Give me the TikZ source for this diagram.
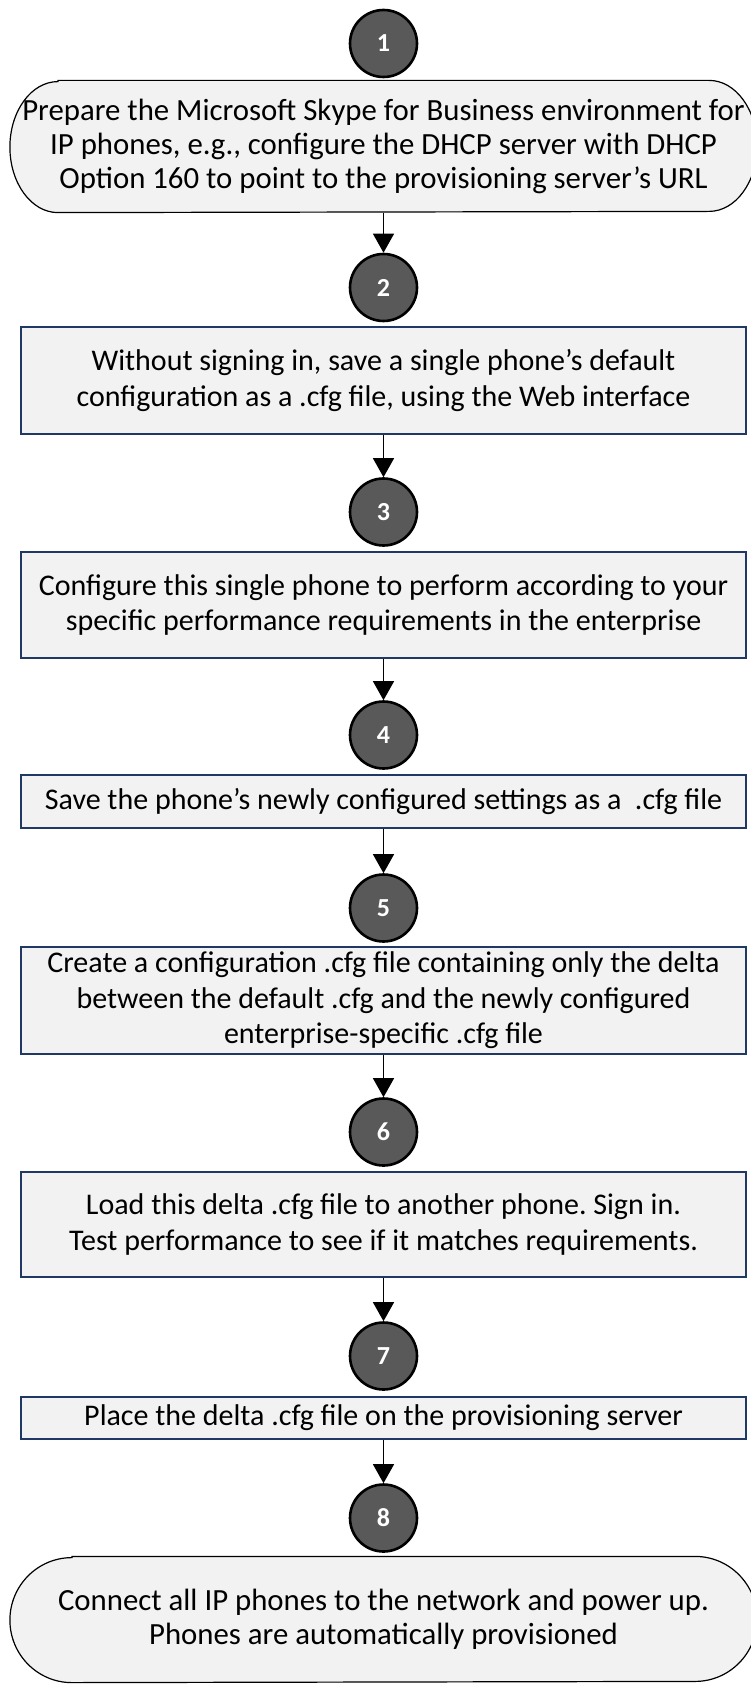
\documentclass[tikz,border=0pt]{standalone}
\usepackage{fontspec}
\setmainfont{Carlito}
\usepackage{xcolor}
\usepackage{tikz}
\usetikzlibrary{arrows.meta,backgrounds}
\frenchspacing

\definecolor{numgray}{HTML}{595959}
\definecolor{boxgray}{HTML}{F2F2F2}
\definecolor{boxline}{HTML}{203864}

\begin{document}
\begin{tikzpicture}[x=0.5pt,y=-0.5pt,line width=0.6pt,
numcell/.style={circle,draw=black,line width=1.3pt,fill=numgray,text=white,minimum size=33.5pt,inner sep=0pt,font=\fontsize{13}{15}\selectfont\bfseries},
boxcell/.style={draw=boxline,line width=0.8pt,fill=boxgray,minimum width=362.5pt,align=center,inner sep=2pt,font=\fontsize{15}{17.75}\selectfont},
endcell/.style={minimum width=373pt,align=center,inner sep=0pt,font=\fontsize{15.4}{16.9}\selectfont},
endline/.style={draw=black,line width=0.6pt,fill=boxgray},
>={Triangle[length=9.5pt,width=10.5pt]}
]
\useasboundingbox (0,0) rectangle (750,1684);

\node[numcell](ca) at (383.5,43.5) {1};
\node[endcell,minimum height=65.5pt](ta) at (383.5,146.5) {Prepare the Microsoft Skype for Business environment for\\IP phones, e.g., configure the DHCP server with DHCP\\Option 160 to point to the provisioning server’s URL};

\node[numcell](cb) at (383.5,287.5) {2};
\node[boxcell,minimum height=53.5pt](bb) at (383.5,380.5) {Without signing in, save a single phone’s default\\configuration as a .cfg file, using the Web interface};

\node[numcell](cc) at (383.5,512) {3};
\node[boxcell,minimum height=53pt](bc) at (383.5,605) {Configure this single phone to perform according to your\\specific performance requirements in the enterprise};

\node[numcell](cd) at (383.5,735) {4};
\node[boxcell,minimum height=26.5pt](bd) at (383.5,801.5) {Save the phone’s newly configured settings as a~ .cfg file};

\node[numcell](ce) at (383.5,908) {5};
\node[boxcell,minimum height=53.5pt](be) at (383.5,1000.5) {Create a configuration .cfg file containing only the delta\\between the default .cfg and the newly configured\\enterprise-specific .cfg file};

\node[numcell](cf) at (383.5,1132) {6};
\node[boxcell,minimum height=52.5pt](bf) at (383.5,1224.5) {Load this delta .cfg file to another phone. Sign in.\\Test performance to see if it matches requirements.};

\node[numcell](cg) at (383.5,1356) {7};
\node[boxcell,minimum height=21pt](bg) at (383.5,1418) {Place the delta .cfg file on the provisioning server};

\node[numcell](ch) at (383.5,1518) {8};
\node[endcell,minimum height=62.5pt](th) at (383.5,1619.5) {Connect all IP phones to the network and power up.\\Phones are automatically provisioned};

% terminator outlines behind the text
\begin{scope}[on background layer]
\draw[endline] ([xshift=24pt]ta.north west) -- ([xshift=-24pt]ta.north east) arc[start angle=90,end angle=-90,x radius=24pt,y radius=32.75pt] -- ([xshift=24pt]ta.south west) arc[start angle=270,end angle=90,x radius=24pt,y radius=32.75pt] -- cycle;
\draw[endline] ([xshift=31pt]th.north west) -- ([xshift=-31pt]th.north east) arc[start angle=90,end angle=-90,x radius=31pt,y radius=31.25pt] -- ([xshift=31pt]th.south west) arc[start angle=270,end angle=90,x radius=31pt,y radius=31.25pt] -- cycle;
\end{scope}

\draw[->](ta) to (cb);
\draw[->](bb) to (cc);
\draw[->](bc) to (cd);
\draw[->](bd) to (ce);
\draw[->](be) to (cf);
\draw[->](bf) to (cg);
\draw[->](bg) to (ch);

\end{tikzpicture}
\end{document}
